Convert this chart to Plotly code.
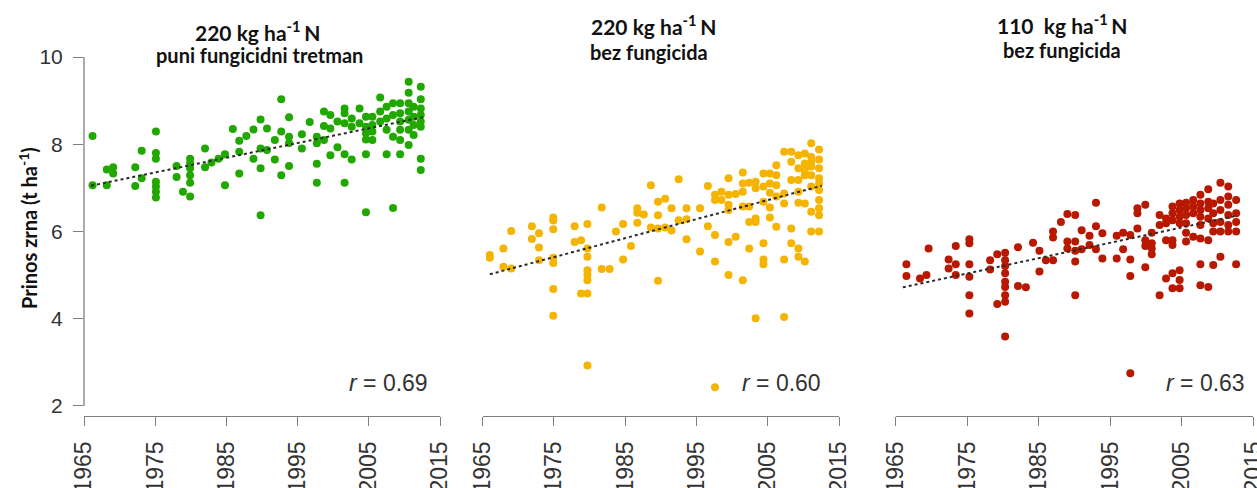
import plotly.graph_objects as go

# ---------------- data ----------------
# Panel 1: 220 kg ha-1 N, full fungicide treatment
p1_years = [1966.2, 1966.2, 1968.2, 1968.2, 1969.1, 1969.1, 1972.2, 1972.2, 1973.1, 1973.1,
            1975.1, 1975.1, 1975.1, 1975.1, 1975.1, 1975.1, 1975.1, 1978.0, 1978.0, 1978.9,
            1979.9, 1979.9, 1979.9, 1979.9, 1979.9, 1979.9, 1982.0, 1982.0, 1982.9, 1983.9,
            1984.8, 1984.8, 1985.9, 1986.8, 1986.8, 1986.8, 1987.8, 1988.8, 1988.8,
            1989.8, 1989.8, 1989.8, 1989.8, 1990.7, 1990.7, 1991.8, 1991.8,
            1992.7, 1992.7, 1992.7, 1993.8, 1993.8, 1993.8, 1993.8, 1995.6, 1995.6, 1996.7,
            1997.7, 1997.7, 1997.7, 1997.7, 1998.7, 1998.7, 1998.7, 1999.6, 1999.6, 1999.6,
            2000.6, 2000.6, 2001.6, 2001.6, 2001.6, 2001.6, 2001.6, 2002.6, 2002.6, 2002.6,
            2003.7, 2003.7, 2004.6, 2004.6, 2004.6, 2004.6, 2004.6, 2004.6,
            2005.5, 2005.5, 2005.5, 2005.5, 2006.6, 2006.6, 2006.6,
            2007.5, 2007.5, 2007.5, 2007.5, 2008.4, 2008.4, 2008.4, 2008.4,
            2009.4, 2009.4, 2009.4, 2009.4, 2009.4, 2009.4,
            2010.6, 2010.6, 2010.6, 2010.6, 2010.6, 2010.6, 2010.6,
            2011.3, 2011.3, 2011.3, 2011.3,
            2012.3, 2012.3, 2012.3, 2012.3, 2012.3, 2012.3, 2012.3, 2012.3]
p1_values = [8.19, 7.06, 7.06, 7.42, 7.47, 7.33, 7.47, 7.04, 7.85, 7.22,
             8.29, 7.80, 7.67, 7.14, 7.03, 6.91, 6.78, 7.50, 7.25, 6.91,
             7.67, 7.56, 7.45, 7.29, 7.12, 6.80, 7.90, 7.47, 7.58, 7.67,
             7.77, 7.06, 8.35, 8.08, 7.83, 7.33, 8.19, 8.34, 7.67,
             8.57, 7.90, 7.45, 6.37, 8.36, 7.87, 8.10, 7.65,
             9.03, 8.29, 7.29, 8.62, 8.17, 8.03, 7.50, 8.23, 7.90, 8.51,
             8.17, 8.02, 7.55, 7.12, 8.75, 8.42, 8.10, 8.67, 8.36, 7.75,
             8.52, 7.93, 8.82, 8.71, 8.48, 7.77, 7.12, 8.59, 8.40, 7.65,
             8.82, 8.48, 8.63, 8.40, 8.25, 8.11, 7.77, 6.44,
             8.63, 8.44, 8.29, 8.10, 9.07, 8.75, 8.52,
             8.86, 8.59, 8.33, 7.77, 8.94, 8.67, 8.17, 6.54,
             8.94, 8.71, 8.52, 8.33, 8.10, 7.77,
             9.43, 9.18, 8.94, 8.75, 8.56, 8.33, 7.98,
             8.86, 8.63, 8.44, 8.21,
             9.32, 9.03, 8.82, 8.67, 8.52, 8.40, 7.67, 7.41]

# Panel 2: 220 kg ha-1 N, no fungicide
p2_years = [1966.0, 1966.0, 1967.9, 1967.9, 1969.0, 1969.0, 1971.9, 1971.9,
            1972.9, 1972.9, 1972.9, 1974.9, 1974.9, 1974.9, 1974.9, 1974.9, 1974.9, 1974.9,
            1977.9, 1977.9, 1978.8, 1978.8,
            1979.7, 1979.7, 1979.7, 1979.7, 1979.7, 1979.7, 1979.7, 1979.7,
            1981.7, 1981.7, 1982.8, 1983.7, 1984.7, 1984.7, 1985.8,
            1986.7, 1986.7, 1986.7, 1987.6, 1988.6, 1988.6,
            1989.6, 1989.6, 1989.6, 1989.6, 1990.6, 1990.6, 1991.5, 1991.5,
            1992.5, 1992.5, 1993.6, 1993.6, 1993.6, 1995.5, 1995.5, 1996.6, 1996.6,
            1997.6, 1997.6, 1997.6, 1997.6, 1997.6, 1998.5, 1998.5,
            1999.5, 1999.5, 1999.5, 1999.5, 1999.5, 1999.5, 2000.5, 2000.5,
            2001.5, 2001.5, 2001.5, 2001.5, 2001.5, 2002.4, 2002.4, 2002.4, 2002.4,
            2003.3, 2003.3, 2003.3, 2003.3, 2003.3,
            2004.4, 2004.4, 2004.4, 2004.4, 2004.4, 2004.4,
            2005.3, 2005.3, 2005.3, 2005.3, 2005.3,
            2006.2, 2006.2, 2006.2, 2006.2, 2006.2,
            2007.3, 2007.3, 2007.3, 2007.3, 2007.3,
            2008.3, 2008.3, 2008.3, 2008.3, 2008.3,
            2009.3, 2009.3, 2009.3, 2009.3, 2009.3, 2009.3, 2009.3,
            2010.2, 2010.2, 2010.2, 2010.2, 2010.2, 2010.2,
            2011.1, 2011.1, 2011.1, 2011.1, 2011.1, 2011.1, 2011.1, 2011.1,
            2012.2, 2012.2, 2012.2, 2012.2, 2012.2, 2012.2, 2012.2, 2012.2, 2012.2, 2012.2]
p2_values = [5.46, 5.40, 5.61, 5.19, 6.01, 5.15, 6.12, 5.83,
             5.96, 5.63, 5.34, 6.32, 6.25, 6.05, 5.40, 5.28, 4.68, 4.07,
             6.12, 5.76, 5.80, 4.58,
             6.17, 5.61, 5.42, 5.11, 5.00, 4.88, 4.58, 2.93,
             6.55, 5.14, 5.14, 6.00, 6.17, 5.36, 5.67,
             6.53, 6.43, 6.20, 6.39, 7.06, 6.09,
             6.68, 6.37, 6.07, 4.87, 6.75, 6.09, 6.53, 6.02,
             7.20, 6.26, 6.53, 6.28, 5.82, 6.53, 5.54, 7.04, 6.12,
             6.84, 6.72, 5.92, 5.31, 2.43, 6.91, 6.72,
             7.22, 6.84, 6.61, 6.49, 5.76, 5.00, 6.86, 5.88,
             7.35, 7.10, 6.91, 6.57, 4.88, 7.12, 6.57, 6.22, 5.61,
             7.14, 6.99, 6.30, 6.22, 4.01,
             7.33, 7.03, 6.68, 5.73, 5.36, 5.25,
             7.33, 7.10, 6.89, 6.55, 6.32,
             7.52, 7.29, 7.06, 6.80, 6.11,
             7.83, 6.87, 6.64, 5.36, 4.04,
             7.83, 7.18, 6.07, 5.73, 7.60,
             7.75, 7.45, 7.18, 6.91, 6.66, 5.61, 5.42,
             7.79, 7.56, 7.29, 6.64, 5.31, 7.40,
             8.02, 7.71, 7.49, 7.29, 7.03, 6.45, 6.00, 7.60,
             7.88, 7.65, 7.45, 7.22, 6.95, 6.72, 6.53, 6.37, 6.00, 7.10]

# Panel 3: 110 kg ha-1 N, no fungicide
p3_years = [1966.5, 1966.5, 1968.4, 1969.3, 1969.6, 1972.4, 1972.4, 1973.4, 1973.4, 1973.4,
            1975.3, 1975.3, 1975.3, 1975.3, 1975.3, 1975.3, 1978.2, 1978.2, 1979.2, 1979.2,
            1980.3, 1980.3, 1980.3, 1980.3, 1980.3, 1980.3, 1980.3, 1980.3, 1980.3,
            1982.1, 1982.1, 1983.2, 1984.2, 1985.1, 1985.1, 1986.0,
            1987.0, 1987.0, 1987.0, 1988.1, 1989.0, 1989.0, 1989.0,
            1990.1, 1990.1, 1990.1, 1990.1, 1990.1, 1991.0, 1991.0, 1992.1, 1992.1,
            1993.0, 1993.0, 1993.0, 1993.9, 1993.9, 1995.9, 1995.9, 1996.8, 1996.8,
            1997.8, 1997.8, 1997.8, 1997.8, 1998.8, 1998.8, 1998.8,
            1999.9, 1999.9, 1999.9, 1999.9, 2000.8, 2000.8, 2000.8, 2000.8,
            2001.9, 2001.9, 2001.9, 2002.8, 2002.8, 2002.8, 2002.8,
            2003.7, 2003.7, 2003.7, 2003.7, 2003.7, 2003.7, 2003.7,
            2004.7, 2004.7, 2004.7, 2004.7, 2004.7, 2004.7, 2004.7,
            2005.6, 2005.6, 2005.6, 2005.6, 2005.6, 2005.6,
            2006.6, 2006.6, 2006.6, 2006.6,
            2007.6, 2007.6, 2007.6, 2007.6, 2007.6, 2007.6, 2007.6, 2007.6,
            2008.7, 2008.7, 2008.7, 2008.7, 2008.7, 2008.7,
            2009.4, 2009.4, 2009.4, 2009.4, 2009.4,
            2010.4, 2010.4, 2010.4, 2010.4, 2010.4, 2010.4,
            2011.5, 2011.5, 2011.5, 2011.5, 2011.5, 2011.5,
            2012.6, 2012.6, 2012.6, 2012.6, 2012.6]
p3_values = [5.25, 4.98, 4.92, 5.00, 5.61, 5.36, 5.15, 5.67, 5.25, 5.00,
             5.82, 5.73, 5.25, 4.96, 4.54, 4.12, 5.34, 5.13, 5.48, 4.34,
             5.51, 5.34, 5.21, 5.04, 4.85, 4.73, 4.54, 4.39, 3.59,
             5.64, 4.75, 4.72, 5.74, 5.56, 5.08, 5.34,
             6.00, 5.86, 5.34, 6.22, 6.40, 5.77, 5.61,
             6.38, 5.77, 5.56, 5.31, 4.54, 6.03, 5.59, 5.90, 5.69,
             6.66, 6.12, 5.59, 5.96, 5.38, 5.90, 5.38, 5.97, 5.59,
             5.92, 5.36, 4.98, 2.75, 6.53, 6.42, 6.07,
             6.61, 5.80, 5.67, 5.18, 5.97, 5.73, 5.61, 5.48,
             6.38, 6.15, 4.54, 6.30, 6.19, 5.80, 4.92,
             6.57, 6.42, 6.26, 5.80, 5.69, 5.04, 4.70,
             6.64, 6.49, 6.34, 6.19, 5.11, 4.89, 4.70,
             6.66, 6.53, 6.38, 6.19, 5.97, 5.77,
             6.72, 6.57, 6.42, 5.88,
             6.84, 6.64, 6.49, 6.34, 6.15, 5.84, 5.25, 4.77,
             6.97, 6.68, 6.53, 6.30, 5.80, 4.73,
             6.64, 6.42, 6.19, 6.00, 5.23,
             7.12, 6.72, 6.49, 6.22, 6.00, 5.42,
             7.03, 6.80, 6.61, 6.38, 6.15, 6.00,
             6.72, 6.42, 6.22, 6.00, 5.25]

# trend lines (end points)
trend_years = [1966.0, 2012.6]
trend1 = [7.05, 8.62]
trend2 = [5.02, 7.05]
trend3 = [4.72, 6.36]

r_labels = ["0.69", "0.60", "0.63"]
titles = ["220 kg ha<sup>-1 </sup>N", "220 kg ha<sup>-1 </sup>N", "110  kg ha<sup>-1 </sup>N"]
subtitles = ["puni fungicidni tretman", "bez fungicida", "bez fungicida"]
y_ticks = [2, 4, 6, 8, 10]
x_ticks = [1965, 1975, 1985, 1995, 2005, 2015]

colors = ["#21a800", "#f5b400", "#b81800"]

W, H = 1257, 488
T, B = 57, 72
domains = [(84, 440), (482.7, 839), (895.7, 1253.3)]

fig = go.Figure()
series = [(p1_years, p1_values, trend1), (p2_years, p2_values, trend2), (p3_years, p3_values, trend3)]
for i, (xs, ys, tr) in enumerate(series):
    xa = "x" if i == 0 else f"x{i+1}"
    ya = "y" if i == 0 else f"y{i+1}"
    fig.add_trace(go.Scatter(x=xs, y=ys, mode="markers", xaxis=xa, yaxis=ya,
                             marker=dict(size=8, color=colors[i], line=dict(width=0)),
                             showlegend=False))
    fig.add_trace(go.Scatter(x=trend_years, y=tr, mode="lines", xaxis=xa, yaxis=ya,
                             line=dict(color="#2a2a2a", width=2, dash="dot"),
                             showlegend=False))

tick_font_y = dict(family="Liberation Sans, Arial, sans-serif", size=21, color="#333333")
tick_font_x = dict(family="Liberation Sans, Arial, sans-serif", size=23, color="#333333")
title_font = "Lato, Open Sans, sans-serif"
gray = "#7f7f7f"

layout = dict(width=W, height=H, margin=dict(l=0, r=0, t=T, b=B),
              plot_bgcolor="white", paper_bgcolor="white", showlegend=False)

for i, (a, b) in enumerate(domains):
    xk = "xaxis" if i == 0 else f"xaxis{i+1}"
    yk = "yaxis" if i == 0 else f"yaxis{i+1}"
    layout[xk] = dict(domain=[a / W, b / W], range=[1965, 2015], tickvals=x_ticks,
                      ticktext=[str(v) for v in x_ticks], tickangle=-90,
                      showline=True, linecolor=gray, linewidth=1.3,
                      ticks="outside", ticklen=9, tickcolor=gray, tickwidth=1.3,
                      showgrid=False, zeroline=False, tickfont=tick_font_x,
                      ticklabelstandoff=6, ticklabeloverflow="allow", automargin=False,
                      anchor="y" if i == 0 else f"y{i+1}")
    layout[yk] = dict(range=[1.77, 10], showgrid=False, zeroline=False, showline=False,
                      anchor="x" if i == 0 else f"x{i+1}", automargin=False)
    if i == 0:
        layout[yk].update(tickvals=y_ticks, ticktext=[str(v) for v in y_ticks],
                          ticks="outside", ticklen=10, tickcolor=gray, tickwidth=1.3,
                          tickfont=tick_font_y, ticklabelstandoff=6)
    else:
        layout[yk].update(showticklabels=False, ticks="")

fig.update_layout(**layout)

# y axis line (spanning only 2..10)
fig.add_shape(type="line", xref="x domain", yref="y", x0=0, x1=0, y0=2, y1=10,
              line=dict(color=gray, width=1.3))

def py(pix):
    return (H - B - pix) / (H - T - B)

title_pos = [(257, 31, 259, 55), (653, 25, 649, 52), (1062, 24, 1062, 50)]
r_pos = [430, 823, 1247]
for i in range(3):
    tx, ty, sx, sy = title_pos[i]
    fig.add_annotation(x=tx / W, y=py(ty), xref="paper", yref="paper", showarrow=False,
                       text=f"<b>{titles[i]}</b>", xanchor="center", yanchor="middle",
                       font=dict(family=title_font, size=21, color="#111111"))
    fig.add_annotation(x=sx / W, y=py(sy), xref="paper", yref="paper", showarrow=False,
                       text=f"<b>{subtitles[i]}</b>", xanchor="center", yanchor="middle",
                       font=dict(family=title_font, size=20, color="#111111"))
    fig.add_annotation(x=r_pos[i] / W, y=py(383), xref="paper", yref="paper", showarrow=False,
                       text=f"<i>r</i> = {r_labels[i]}", xanchor="right", yanchor="middle",
                       font=dict(family="Liberation Sans, Arial, sans-serif", size=23, color="#333333"))

fig.add_annotation(x=28 / W, y=py(228), xref="paper", yref="paper", showarrow=False,
                   text="<b>Prinos zrna (t ha<sup>-1</sup>)</b>", textangle=-90,
                   xanchor="center", yanchor="middle",
                   font=dict(family=title_font, size=20, color="#111111"))

fig.write_html("out.html", config={"displayModeBar": False},
               post_script="document.body.style.margin='0';document.body.style.padding='0';")
